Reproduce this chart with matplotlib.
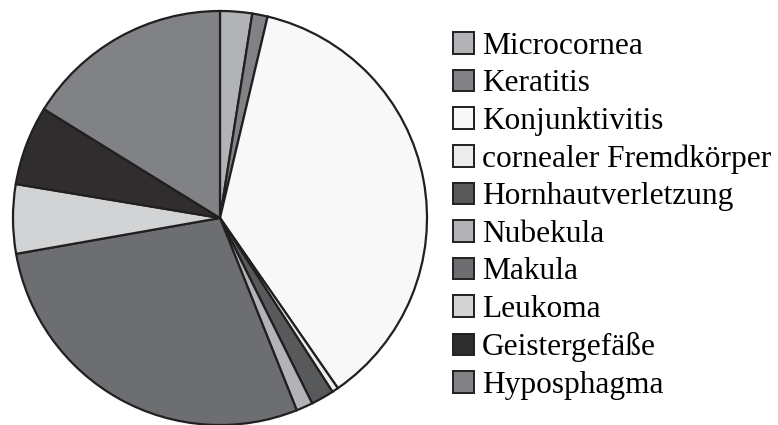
import matplotlib
matplotlib.use("Agg")
import matplotlib.pyplot as plt
from matplotlib.patches import Patch

categories = ["Microcornea", "Keratitis", "Konjunktivitis", "cornealer Fremdkörper",
              "Hornhautverletzung", "Nubekula", "Makula", "Leukoma",
              "Geistergefäße", "Hyposphagma"]
values = [2.5, 1.2, 36.7, 0.5, 1.8, 1.3, 28.3, 5.4, 6.2, 16.2]
colors = ["#b1b3b6", "#808285", "#f8f8f8", "#ececec", "#58595b",
          "#b1b3b6", "#6d6e71", "#d1d3d4", "#2f2d2e", "#808285"]
edge = "#231f20"

plt.rcParams['font.family'] = ['Liberation Serif', 'DejaVu Serif']

fig = plt.figure(figsize=(7.78, 4.25), dpi=100)
ax = fig.add_axes([13/778, 0/425, 414/778, 414/425])
ax.pie(values, colors=colors, startangle=90, counterclock=False,
       wedgeprops=dict(edgecolor=edge, linewidth=1.6))
ax.set_aspect('equal')
ax.set_xlim(-1.0, 1.0)
ax.set_ylim(-1.0, 1.0)
ax.axis('off')

handles = [Patch(facecolor=c, edgecolor=edge, linewidth=1.4) for c in colors]
fig.legend(handles, categories, loc='upper left', bbox_to_anchor=(453/778, 1 - 32/425),
           frameon=False, fontsize=22.6, handlelength=0.68, handleheight=0.68,
           handletextpad=0.25, labelspacing=0.27, borderpad=0, borderaxespad=0)

fig.savefig("out.png", dpi=100)
